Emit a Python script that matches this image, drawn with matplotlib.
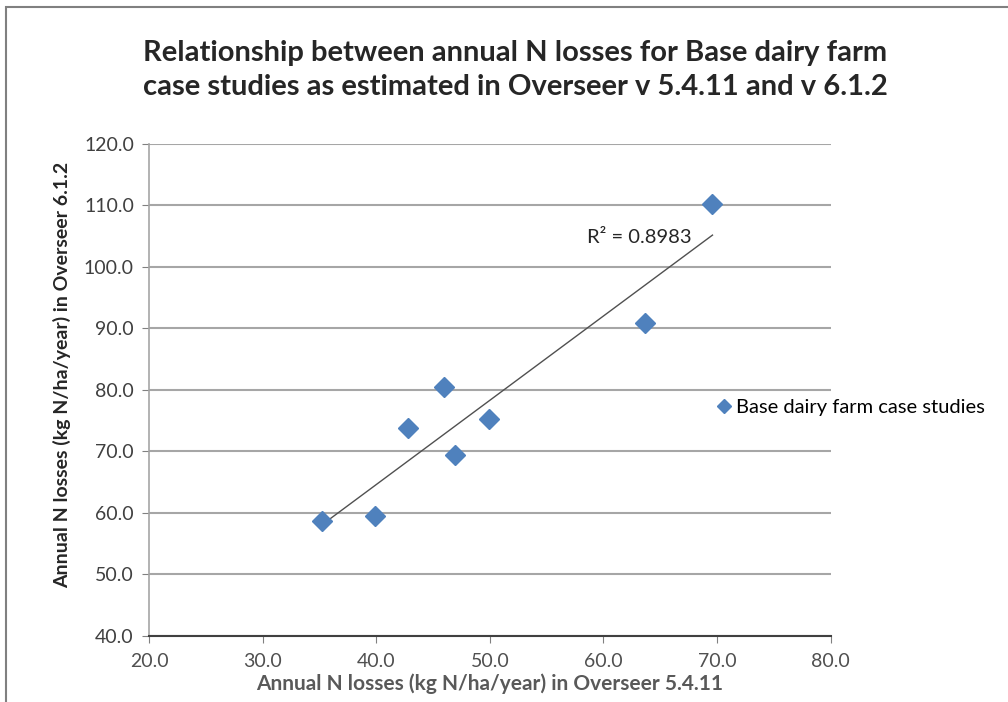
import numpy as np
import matplotlib
matplotlib.use("Agg")
import matplotlib.pyplot as plt
from matplotlib.patches import Rectangle

# Data
x_v5 = [35.2, 39.9, 42.8, 46.0, 46.9, 49.9, 63.7, 69.6]
y_v6 = [58.7, 59.5, 73.8, 80.5, 69.5, 75.3, 90.9, 110.2]
x_ticks = [20.0, 30.0, 40.0, 50.0, 60.0, 70.0, 80.0]
y_ticks = [40.0, 50.0, 60.0, 70.0, 80.0, 90.0, 100.0, 110.0, 120.0]
series_name = "Base dairy farm case studies"
r2_label = "R² = 0.8983"
title = ("Relationship between annual N losses for Base dairy farm\n"
         "case studies as estimated in Overseer v 5.4.11 and v 6.1.2")
xlabel = "Annual N losses (kg N/ha/year) in Overseer 5.4.11"
ylabel = "Annual N losses (kg N/ha/year) in Overseer 6.1.2"

plt.rcParams['font.family'] = ['Lato', 'DejaVu Sans']

fig = plt.figure(figsize=(10.08, 7.02), dpi=100)
fig.patch.set_facecolor('white')
# outer chart border
fig.add_artist(Rectangle((0.006, -0.01), 1.1, 1.0, transform=fig.transFigure,
                         fill=False, edgecolor='#808080', linewidth=1.5))

ax = fig.add_axes([0.148, 0.094, 0.676, 0.701])
ax.set_xlim(20, 80)
ax.set_ylim(40, 120)
ax.set_xticks(x_ticks)
ax.set_yticks(y_ticks)
ax.set_xticklabels([f"{v:.1f}" for v in x_ticks], color='#505050')
ax.set_yticklabels([f"{v:.1f}" for v in y_ticks], color='#404040')
ax.tick_params(axis='both', labelsize=14, length=5, color='#808080')
ax.tick_params(axis='x', pad=7)
ax.tick_params(axis='y', pad=6)
ax.grid(axis='y', color='#A6A6A6', linewidth=1.5)
ax.set_axisbelow(True)
for s in ['top', 'right']:
    ax.spines[s].set_visible(False)
ax.spines['left'].set_color('#A6A6A6')
ax.spines['left'].set_linewidth(1.2)
ax.spines['bottom'].set_color('#404040')
ax.spines['bottom'].set_linewidth(1.5)

ax.plot(x_v5, y_v6, linestyle='none', marker='D', markersize=10.5,
        color='#4F81BD', label=series_name, zorder=3)

# linear trendline
coef = np.polyfit(x_v5, y_v6, 1)
xs = np.array([min(x_v5), max(x_v5)])
ax.plot(xs, np.polyval(coef, xs), color='#505050', linewidth=1.0, zorder=2)
ax.text(67.8, 104.8, r2_label, ha='right', va='center', fontsize=14.5, color='#262626')

ax.set_xlabel(xlabel, fontsize=15, fontweight='bold', color='#595959', labelpad=3)
ax.set_ylabel(ylabel, fontsize=14, fontweight='bold', color='#262626')
ax.yaxis.set_label_coords(-0.115, 0.53)

fig.text(0.511, 0.900, title, ha='center', va='center', fontsize=21,
         fontweight='bold', color='#262626', linespacing=1.4)

fig.legend(loc='center left', bbox_to_anchor=(0.69, 0.42), frameon=False,
           fontsize=14.5, handletextpad=0.1, handlelength=1.0, markerscale=0.65)

fig.savefig("out.png", dpi=100)
